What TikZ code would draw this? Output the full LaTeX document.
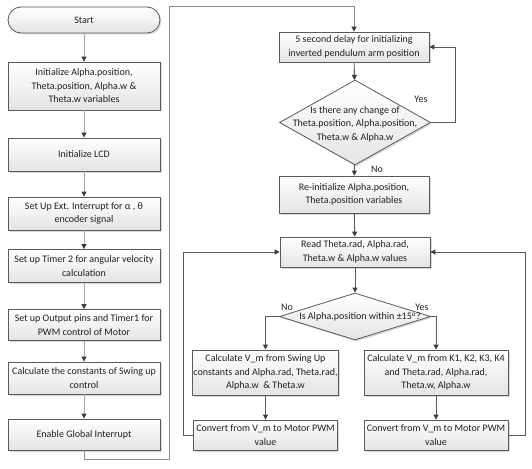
\documentclass[tikz,border=0pt]{standalone}
\usepackage{fontspec}
\setmainfont{Carlito}
\usetikzlibrary{arrows.meta,shapes.geometric,shadows,calc}
\definecolor{boxborder}{HTML}{5A5A5A}
\definecolor{boxbottom}{HTML}{E4E4E4}
\definecolor{textcol}{HTML}{202020}
\definecolor{lightline}{HTML}{A6A6A6}
\definecolor{midline}{HTML}{8C8C8C}
\definecolor{darkline}{HTML}{5A5A5A}
\definecolor{tipcol}{HTML}{3C3C3C}
\begin{document}
\begin{tikzpicture}[x=1pt,y=-1pt,
  font=\fontsize{10}{13.5}\selectfont,
  box/.style={draw=boxborder, line width=0.8pt, top color=white, bottom color=boxbottom,
    drop shadow={shadow xshift=1.5pt,shadow yshift=-1.5pt,fill=black,opacity=0.15},
    align=center, inner sep=1pt, text=textcol},
  lbox/.style={box, minimum width=152pt, minimum height=33pt},
  rbox/.style={box, minimum width=150pt},
  cbox/.style={box, minimum width=144pt, minimum height=45pt},
  term/.style={box, rounded corners=13pt, minimum width=152pt, minimum height=26pt},
  dia/.style={diamond, draw=boxborder, line width=0.8pt, top color=white, bottom color=boxbottom,
    drop shadow={shadow xshift=1.5pt,shadow yshift=-1.5pt,fill=black,opacity=0.15},
    inner sep=0pt, minimum width=151pt},
  dtext/.style={align=center, text=textcol, inner sep=0pt},
  lbl/.style={text=textcol, inner sep=0pt},
  tip/.style={-{Triangle[length=5pt,width=5pt,color=tipcol]}},
  lconn/.style={draw=lightline, line width=1pt, tip},
  mconn/.style={draw=midline, line width=1pt, tip},
  rconn/.style={draw=darkline, line width=0.9pt, tip}
]
\useasboundingbox[fill=white] (0,0) rectangle (532,468);

% left column
\node[term] (start) at (84,20) {Start};
\node[lbox, minimum height=48pt] (init) at (84,86) {Initialize Alpha.position,\\Theta.position, Alpha.w \&\\Theta.w variables};
\node[lbox] (lcd) at (84,154.5) {Initialize LCD};
\node[lbox] (ext) at (84,213.5) {Set Up Ext. Interrupt for α , θ\\encoder signal};
\node[lbox] (timer) at (84,266) {Set up Timer 2 for angular velocity\\calculation};
\node[lbox, minimum height=31pt] (outp) at (84,325) {Set up Output pins and Timer1 for\\PWM control of Motor};
\node[lbox, minimum height=32pt] (const) at (84,378) {Calculate the constants of Swing up\\control};
\node[lbox, minimum height=31pt] (enable) at (84,434.5) {Enable Global Interrupt};

% right column
\node[rbox, minimum height=30pt] (delay) at (354,47) {5 second delay for initializing\\inverted pendulum arm position};
\node[dia, minimum height=85pt] (d1) at (355,122.5) {};
\node[dtext] (d1t) at (355,124) {Is there any change of\\Theta.position, Alpha.position,\\Theta.w \& Alpha.w};
\node[rbox, minimum height=37pt] (reinit) at (354,194.5) {Re-initialize Alpha.position,\\Theta.position variables};
\node[rbox, minimum height=30pt] (read) at (355,252) {Read Theta.rad, Alpha.rad,\\Theta.w \& Alpha.w values};
\node[dia, minimum height=47pt] (d2) at (355,316.5) {};
\node[dtext] (d2t) at (360,317) {Is Alpha.position within ±15\textsuperscript{o}?};
\node[cbox] (lcalc) at (265.5,372.5) {Calculate V\_m from Swing Up\\constants and Alpha.rad, Theta.rad,\\Alpha.w \ \& Theta.w};
\node[cbox] (rcalc) at (436,372.5) {Calculate V\_m from K1, K2, K3, K4\\and Theta.rad, Alpha.rad,\\Theta.w, Alpha.w};
\node[cbox, minimum height=30pt] (lconv) at (265.5,435) {Convert from V\_m to Motor PWM\\value};
\node[cbox, minimum height=30pt] (rconv) at (436,435) {Convert from V\_m to Motor PWM\\value};

% labels
\node[lbl] (yes1) at (421,99) {Yes};
\node[lbl] (no1) at (377,169) {No};
\node[lbl] (no2) at (287,307) {No};
\node[lbl] (yes2) at (422,307) {Yes};

% helper coordinates
\coordinate (c1) at (169,459);
\coordinate (c2) at (169,7);
\coordinate (yx) at (455,0);
\coordinate (lx) at (183,0);
\coordinate (rx) at (525,0);

% left column connectors
\draw[lconn] (start) -- (init);
\draw[lconn] (init) -- (lcd);
\draw[lconn] (lcd) -- (ext);
\draw[lconn] (ext) -- (timer);
\draw[lconn] (timer) -- (outp);
\draw[lconn] (outp) -- (const);
\draw[lconn] (const) -- (enable);
\draw[mconn] (enable.south) |- (c1) -- (c2) -| (delay.north);

% right column connectors
\draw[rconn] (delay) -- (d1);
\draw[rconn] (d1.east) -- (d1.east -| yx) |- (delay.east);
\draw[rconn] (d1) -- (reinit);
\draw[rconn] (reinit) -- (read);
\draw[rconn] (read) -- (d2);
\draw[rconn] (d2.west) -| (lcalc.north);
\draw[rconn] (d2.east) -| (rcalc.north);
\draw[rconn] (lcalc) -- (lconv);
\draw[rconn] (rcalc) -- (rconv);
\draw[rconn] (lconv.west) -- (lconv.west -| lx) |- (read.west);
\draw[rconn] (rconv.east) -- (rconv.east -| rx) |- (read.east);
\end{tikzpicture}
\end{document}
